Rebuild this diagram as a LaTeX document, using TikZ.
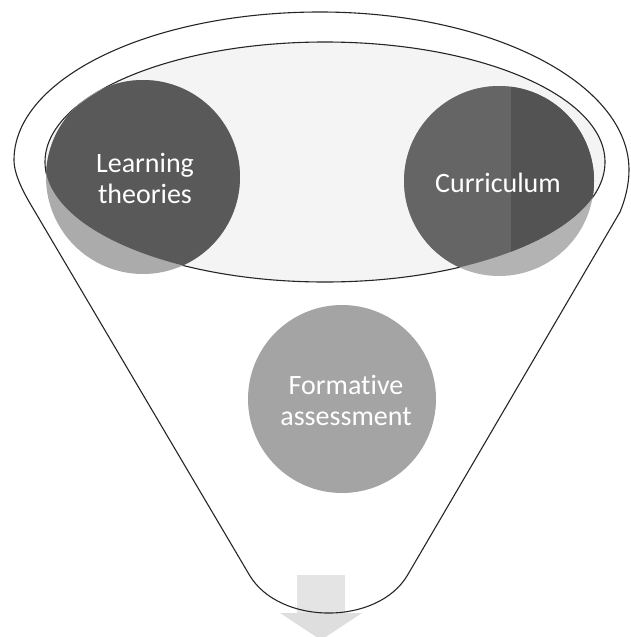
\documentclass[tikz,border=0pt]{standalone}
\usepackage{fontspec}
\setmainfont{Carlito}[Ligatures=NoCommon]
\definecolor{innergray}{HTML}{F4F4F4}
\definecolor{darkL}{HTML}{595959}
\definecolor{lightL}{HTML}{ABABAB}
\definecolor{darkCa}{HTML}{656565}
\definecolor{darkCb}{HTML}{535353}
\definecolor{lightC}{HTML}{B3B3B3}
\definecolor{formgray}{HTML}{A4A4A4}
\definecolor{arrowgray}{HTML}{DEDEDE}
\definecolor{squaregray}{HTML}{E4E4E4}
\begin{document}
\begin{tikzpicture}[x=1pt,y=-1pt,
  rim/.style={draw=black!85, line width=1.1pt},
  lbl/.style={text=white, align=center, font=\fontsize{28}{31}\selectfont},
  innerell/.style={x radius=280pt, y radius=120pt}
]
\useasboundingbox (0,0) rectangle (631,637);
% arrow below the funnel
\fill[squaregray] (297,575) rectangle (345,613);
\fill[arrowgray] (280,613) -- (362,613) -- (321,640) -- cycle;
% funnel outline
\draw[rim] (14,160) .. controls (14,78) and (151,12) .. (320,12)
  .. controls (491,12) and (629,83) .. (629,170)
  .. controls (629,185) and (625,200) .. (620,212)
  -- (407.6,575) .. controls (377.9,625.8) and (279.3,625.6) .. (249.4,575)
  -- (31,205) .. controls (24,193) and (14,175) .. cycle;
% inner ellipse
\draw[rim, fill=innergray] (325,162) ellipse [innerell];
% learning theories circle
\fill[lightL] (143,177) circle [radius=97pt];
\begin{scope}
  \clip (325,162) ellipse [innerell];
  \fill[darkL] (143,177) circle [radius=97pt];
\end{scope}
% curriculum circle
\fill[lightC] (499,181) circle [radius=95pt];
\begin{scope}
  \clip (325,162) ellipse [innerell];
  \fill[darkCa] (499,181) circle [radius=95pt];
  \clip (511,0) rectangle (631,637);
  \fill[darkCb] (499,181) circle [radius=95pt];
\end{scope}
% formative assessment circle
\fill[formgray] (342,399) circle [radius=94pt];
% labels
\node[lbl] (lt) at (145,178) {Learning\\theories};
\node[lbl] (cu) at (498,183) {Curriculum};
\node[lbl] (fa) at (346,400) {Formative\\assessment};
\end{tikzpicture}
\end{document}
